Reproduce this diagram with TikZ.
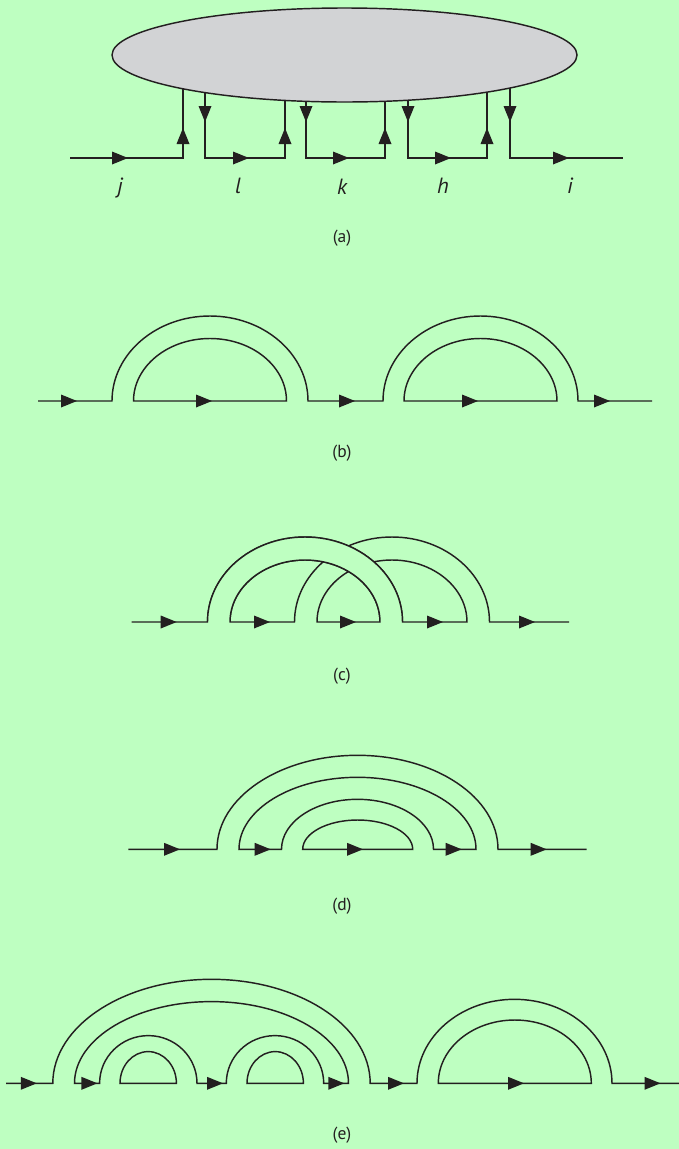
\documentclass[tikz,border=0pt]{standalone}
\usepackage{fontspec}
\setmainfont{PT Sans}
\definecolor{bg}{RGB}{190,255,193}
\definecolor{ink}{RGB}{35,31,32}
\definecolor{blob}{RGB}{210,211,213}
\tikzset{
  ln/.style={draw=ink,line width=1.45pt,line join=miter},
  tipR/.pic={\fill[ink] (0,0) -- (-16,6.5) -- (-16,-6.5) -- cycle;},
  captxt/.style={font=\fontsize{17.5}{20}\selectfont,text=ink,inner sep=0pt},
  labtxt/.style={font=\fontsize{22}{26}\selectfont\itshape,text=ink,inner sep=0pt}
}
\begin{document}
\begin{tikzpicture}[x=1pt,y=1pt]
\fill[bg] (0,0) rectangle (679,-1149);
\useasboundingbox (0,0) rectangle (679,-1149);

% ---------- (a)
\draw[ln] (70,-158) -- (183,-158) -- (183,-80);
\draw[ln] (205,-80) -- (205,-158) -- (285,-158) -- (285,-80);
\draw[ln] (306,-80) -- (306,-158) -- (385,-158) -- (385,-80);
\draw[ln] (408,-80) -- (408,-158) -- (487,-158) -- (487,-80);
\draw[ln] (510,-80) -- (510,-158) -- (623,-158);
\filldraw[ln,fill=blob] (344.5,-55) ellipse[x radius=232.5,y radius=47];
\foreach \x in {128,249,349,451,569} \pic at (\x,-158) {tipR};
\foreach \x in {183,285,385,487} \pic[rotate=90] at (\x,-128) {tipR};
\foreach \x in {205,306,408,510} \pic[rotate=-90] at (\x,-122) {tipR};
\node[labtxt] (lj) at (120,-188) {j};
\node[labtxt] (ll) at (238,-186) {l};
\node[labtxt] (lk) at (342,-187) {k};
\node[labtxt] (lh) at (443,-186) {h};
\node[labtxt] (li) at (570,-186) {i};
\node[captxt] (ca) at (342,-238) {(a)};

% ---------- (b)
\draw[ln] (38,-401) -- (112,-401) arc[start angle=180,end angle=0,x radius=98,y radius=85]
  -- (383,-401) arc[start angle=180,end angle=0,x radius=97.5,y radius=85] -- (652,-401);
\draw[ln] (133.5,-401) arc[start angle=180,end angle=0,x radius=76.5,y radius=62.5] -- cycle;
\draw[ln] (404,-401) arc[start angle=180,end angle=0,x radius=76.5,y radius=62.5] -- cycle;
\foreach \x in {77,212,355,478,610} \pic at (\x,-401) {tipR};
\node[captxt] (cb) at (342,-453) {(b)};

% ---------- (c)
\draw[ln] (131.7,-622) -- (207.5,-622) arc[start angle=180,end angle=0,x radius=97.5,y radius=85]
  -- (467,-622) arc[start angle=0,end angle=180,x radius=75,y radius=62]
  -- (380,-622) arc[start angle=0,end angle=180,x radius=75,y radius=62]
  -- (294.5,-622) arc[start angle=180,end angle=0,x radius=97.5,y radius=85] -- (569,-622);
\fill[bg] (207.5,-622) arc[start angle=180,end angle=0,x radius=97.5,y radius=85]
  -- (380,-622) arc[start angle=0,end angle=180,x radius=75,y radius=62] -- cycle;
\draw[ln] (207.5,-622) arc[start angle=180,end angle=0,x radius=97.5,y radius=85];
\draw[ln] (380,-622) arc[start angle=0,end angle=180,x radius=75,y radius=62];
\foreach \x in {176.7,270,356,443,535} \pic at (\x,-622) {tipR};
\node[captxt] (cc) at (342,-676) {(c)};

% ---------- (d)
\draw[ln] (128.3,-849.3) -- (217,-849.3) arc[start angle=180,end angle=0,x radius=140.5,y radius=94] -- (586.7,-849.3);
\draw[ln] (239,-849.3) arc[start angle=180,end angle=0,x radius=118.5,y radius=72]
  -- (433.5,-849.3) arc[start angle=0,end angle=180,x radius=76,y radius=50] -- cycle;
\draw[ln] (302.7,-849.3) arc[start angle=180,end angle=0,x radius=55,y radius=29.3] -- cycle;
\foreach \x in {180,270.7,363,461.7,546.7} \pic at (\x,-849.3) {tipR};
\node[captxt] (cd) at (342,-906) {(d)};

% ---------- (e)
\draw[ln] (6,-1083.3) -- (52.8,-1083.3) arc[start angle=180,end angle=0,x radius=158.7,y radius=104]
  -- (417,-1083.3) arc[start angle=180,end angle=0,x radius=97.5,y radius=84] -- (679,-1083.3);
\draw[ln] (74.5,-1083.3) arc[start angle=180,end angle=0,x radius=137,y radius=81.7]
  -- (323.7,-1083.3) arc[start angle=0,end angle=180,x radius=48.7,y radius=47.7]
  -- (197,-1083.3) arc[start angle=0,end angle=180,x radius=48.7,y radius=47.7] -- cycle;
\draw[ln] (120,-1083.3) arc[start angle=180,end angle=0,x radius=28.2,y radius=31.7] -- cycle;
\draw[ln] (247,-1083.3) arc[start angle=180,end angle=0,x radius=28.2,y radius=31.7] -- cycle;
\draw[ln] (438.3,-1083.3) arc[start angle=180,end angle=0,x radius=76.5,y radius=63.3] -- cycle;
\foreach \x in {36.8,97.4,223,344.3,404,524,660.5} \pic at (\x,-1083.3) {tipR};
\node[captxt] (ce) at (342,-1135) {(e)};
\end{tikzpicture}
\end{document}
